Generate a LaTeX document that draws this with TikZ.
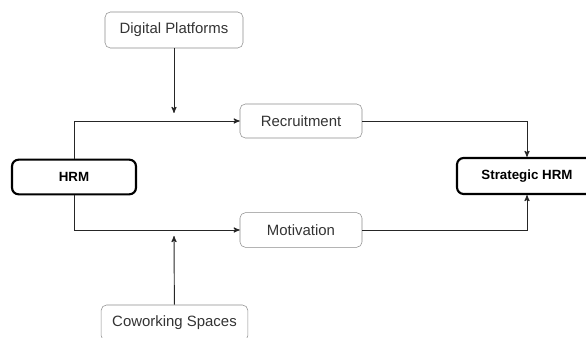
\documentclass[tikz,border=0pt]{standalone}
\usepackage{fontspec}
\setmainfont{Liberation Sans}
\usetikzlibrary{arrows}
\usetikzlibrary{positioning}

\tikzset{
  factor/.style={draw=black!45,rounded corners=4pt,inner sep=0pt,text=black!80,
    font=\fontsize{11.2}{13}\selectfont},
  pole/.style={draw=black,line width=1.6pt,rounded corners=5pt,inner sep=0pt,
    font=\fontsize{10}{12}\selectfont\bfseries},
  link/.style={draw,black!85,line width=0.7pt,->,>=stealth'},
  up then across/.style={to path={|- (\tikztotarget)}},
  across then up/.style={to path={-| (\tikztotarget)}}
}

\begin{document}
\begin{tikzpicture}[x=0.75pt,y=-0.75pt]
  \useasboundingbox (0,0) rectangle (586,338);
  \clip (0,0) rectangle (586,338);

  \node [factor,minimum width=103.5pt,minimum height=27pt] (digital) at (174,30) {Digital Platforms};
  \node [factor,minimum width=91.5pt,minimum height=25.5pt] (recruit) at (301,121) {Recruitment};
  \node [factor,minimum width=91.5pt,minimum height=26pt] (motiv) at (301,230) {Motivation};
  \node [factor,minimum width=110pt,minimum height=27pt] (cowork) at (174.5,323) {Coworking Spaces};

  \node [pole,minimum width=93pt,minimum height=26pt] (hrm) at (74,177) {HRM};
  \node [pole,minimum width=105pt,minimum height=27pt] (strat) at (527,176) {Strategic HRM};

  \coordinate (digital_in) at (174,113);
  \coordinate (cowork_in) at (174,236);

  \path
    (hrm.north) edge [link,up then across] (recruit)
    (hrm.south) edge [link,up then across] (motiv)
    (recruit) edge [link,across then up] (strat.north)
    (motiv) edge [link,across then up] (strat.south);

  \path
    (digital) edge [link] (digital_in)
    (cowork) edge [link] (cowork_in);

\end{tikzpicture}
\end{document}
